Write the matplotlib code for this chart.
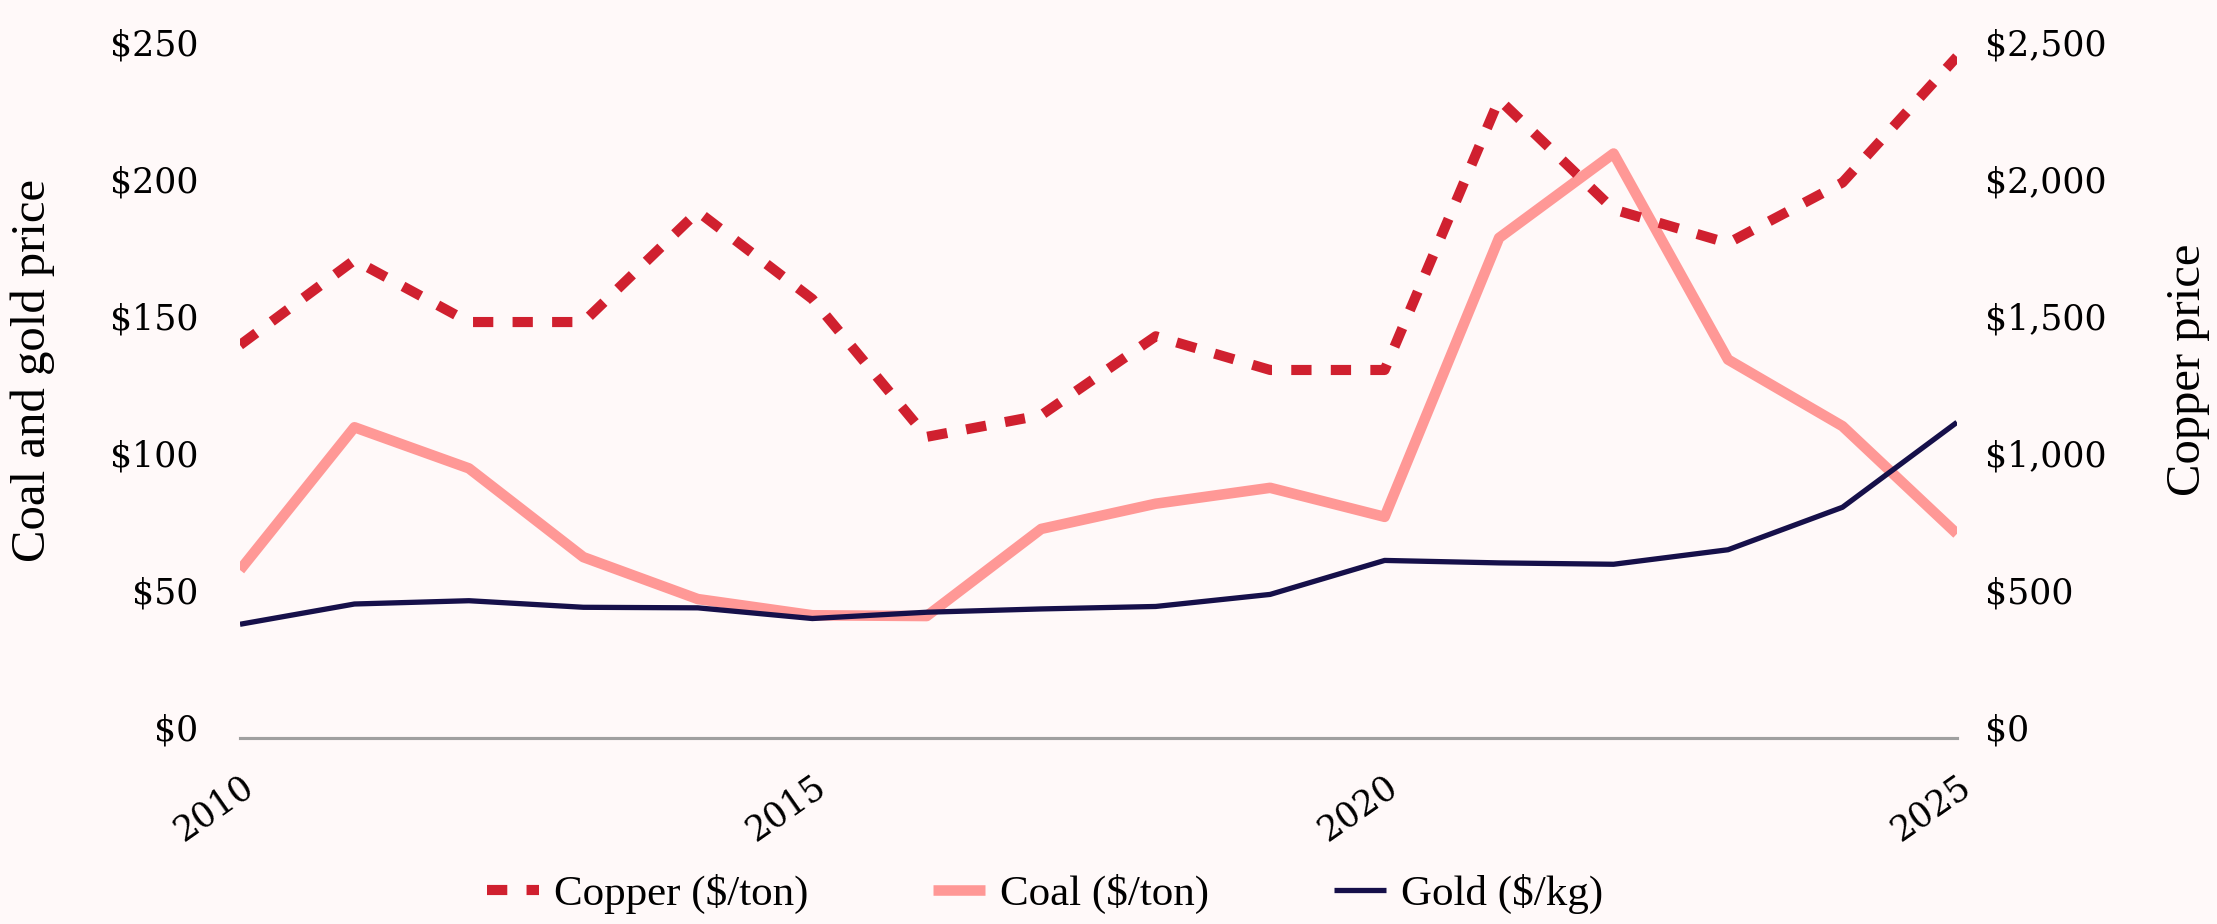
import matplotlib
matplotlib.use("Agg")
import matplotlib.pyplot as plt
from matplotlib.ticker import FuncFormatter, MultipleLocator

# ── Data ─────────────────────────────────────────────────────────────────
years = list(range(2010, 2026))
copper = [1394, 1704, 1478, 1478, 1881, 1562, 1059, 1138,
          1426, 1303, 1303, 2290, 1889, 1766, 1987, 2446]
coal = [57.3, 109.4, 94.4, 62.0, 46.7, 40.8, 40.5, 72.3,
        81.5, 87.3, 76.7, 178.5, 209.3, 134.1, 109.8, 70.5]
gold = [37.5, 44.9, 46.1, 43.7, 43.5, 39.6, 41.9, 43.1,
        44.0, 48.4, 60.8, 59.9, 59.4, 64.7, 80.2, 111.2]

BG = "#FFF9F9"
COPPER = "#D0202F"
COAL = "#FF9896"
GOLD = "#16104A"
TICK_FONT = "DejaVu Serif"
TEXT_FONT = "Liberation Serif"

fig = plt.figure(figsize=(22.17, 9.24), dpi=100, facecolor=BG)
ax = fig.add_axes([0.10825, 0.2013, 0.77445, 0.7592])
ax.set_facecolor(BG)

# ── Left axis: coal and gold ─────────────────────────────────────────────
coal_line, = ax.plot(years, coal, color=COAL, lw=7.6, solid_capstyle="butt",
                     label="Coal ($/ton)")
gold_line, = ax.plot(years, gold, color=GOLD, lw=3.8, solid_capstyle="butt",
                     label="Gold ($/kg)")
ax.set_xlim(2010, 2025)
ax.set_ylim(-4, 252)
ax.yaxis.set_major_locator(MultipleLocator(50))
ax.yaxis.set_major_formatter(FuncFormatter(lambda v, _: f"${v:,.0f}"))
ax.set_xticks([2010, 2015, 2020, 2025])

# ── Right axis: copper ───────────────────────────────────────────────────
ax2 = ax.twinx()
copper_line, = ax2.plot(years, copper, color=COPPER, lw=7.3, dashes=(2.0, 1.9),
                        dash_capstyle="butt", label="Copper ($/ton)")
ax2.set_ylim(-40, 2520)
ax2.yaxis.set_major_locator(MultipleLocator(500))
ax2.yaxis.set_major_formatter(FuncFormatter(lambda v, _: f"${v:,.0f}"))

for a in (ax, ax2):
    for s in ("top", "left", "right"):
        a.spines[s].set_visible(False)
    a.spines["bottom"].set_color("#A0A0A0")
    a.spines["bottom"].set_linewidth(2.2)
    a.tick_params(length=0)

ax.tick_params(axis="y", pad=30, labelsize=25)
ax2.tick_params(axis="y", pad=20, labelsize=25)
ax.tick_params(axis="x", pad=22, labelsize=25)
for lbl in ax.get_yticklabels() + ax2.get_yticklabels():
    lbl.set_fontfamily(TICK_FONT)
for lbl in ax.get_xticklabels():
    lbl.set_fontfamily(TICK_FONT)
    lbl.set_rotation(35)
    lbl.set_ha("right")
    lbl.set_va("top")
    lbl.set_rotation_mode("anchor")

# axis titles
fig.text(33 / 2217, 1 - 371 / 924, "Coal and gold price", rotation=90,
         ha="center", va="center", fontsize=35, family=TEXT_FONT)
fig.text(2188 / 2217, 1 - 370 / 924, "Copper price", rotation=90,
         ha="center", va="center", fontsize=35, family=TEXT_FONT)

# legend
fig.legend(handles=[copper_line, coal_line, gold_line], loc="center",
           bbox_to_anchor=(1045 / 2217, 30 / 924), ncol=3, frameon=False,
           prop={"family": TEXT_FONT, "size": 31}, handlelength=1.2,
           handletextpad=0.35, columnspacing=2.9)

fig.savefig("out.png", dpi=100, facecolor=BG)
